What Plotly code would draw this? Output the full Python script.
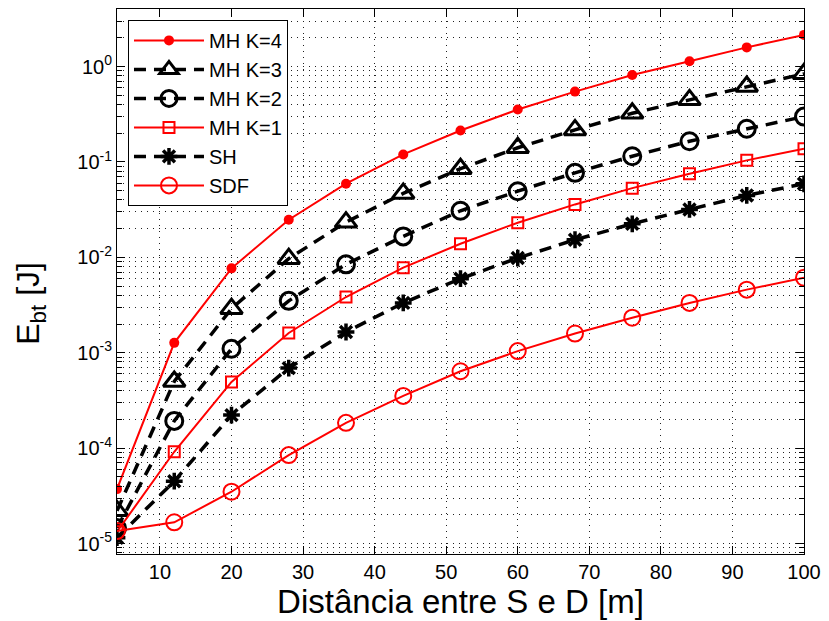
import plotly.graph_objects as go

# Distance between source and destination [m]
distancia = [4, 12, 20, 28, 36, 44, 52, 60, 68, 76, 84, 92, 100]

# Energy per bit [J] for each scheme
mh_k4 = [3.72e-5, 1.27e-3, 7.67e-3, 0.0248, 0.0592, 0.120, 0.214, 0.355, 0.547, 0.818, 1.14, 1.59, 2.15]
mh_k3 = [2.2e-5, 5.0e-4, 2.9e-3, 9.7e-3, 0.0234, 0.0468, 0.085, 0.141, 0.217, 0.324, 0.448, 0.618, 0.84]
mh_k2 = [1.45e-5, 1.93e-4, 1.1e-3, 3.5e-3, 8.45e-3, 0.0166, 0.0308, 0.0494, 0.077, 0.115, 0.165, 0.223, 0.299]
mh_k1 = [1.33e-5, 9.16e-5, 4.94e-4, 1.61e-3, 3.84e-3, 7.8e-3, 0.0139, 0.0231, 0.0359, 0.0532, 0.0752, 0.104, 0.138]
sh = [1.15e-5, 4.5e-5, 2.22e-4, 6.9e-4, 1.65e-3, 3.33e-3, 5.98e-3, 9.84e-3, 0.0153, 0.0225, 0.0318, 0.0446, 0.0591]
sdf = [1.35e-5, 1.67e-5, 3.49e-5, 8.45e-5, 1.84e-4, 3.53e-4, 6.4e-4, 1.04e-3, 1.59e-3, 2.33e-3, 3.33e-3, 4.59e-3, 6.12e-3]

y_tickvals = [1e-5, 1e-4, 1e-3, 1e-2, 1e-1, 1e0]
y_ticktext = ["10<sup>-5</sup>", "10<sup>-4</sup>", "10<sup>-3</sup>",
              "10<sup>-2</sup>", "10<sup>-1</sup>", "10<sup>0</sup>"]

RED = "#ff0000"
BLACK = "#000000"
DASH = "12px,8px"
GRID_DASH = "1px,5px"
GRID_COLOR = "#222222"

fig = go.Figure()

fig.add_trace(go.Scatter(
    x=distancia, y=mh_k4, name="MH K=4", mode="lines+markers",
    line=dict(color=RED, width=2),
    marker=dict(symbol="circle", size=10, color=RED)))

fig.add_trace(go.Scatter(
    x=distancia, y=mh_k3, name="MH K=3", mode="lines+markers",
    line=dict(color=BLACK, width=3.5, dash=DASH),
    marker=dict(symbol="triangle-up-open", size=19, color=BLACK,
                line=dict(color=BLACK, width=3))))

fig.add_trace(go.Scatter(
    x=distancia, y=mh_k2, name="MH K=2", mode="lines+markers",
    line=dict(color=BLACK, width=3.5, dash=DASH),
    marker=dict(symbol="circle-open", size=17, color=BLACK,
                line=dict(color=BLACK, width=3))))

fig.add_trace(go.Scatter(
    x=distancia, y=mh_k1, name="MH K=1", mode="lines+markers",
    line=dict(color=RED, width=2),
    marker=dict(symbol="square-open", size=11, color=RED,
                line=dict(color=RED, width=2))))

fig.add_trace(go.Scatter(
    x=distancia, y=sh, name="SH", mode="lines+markers",
    line=dict(color=BLACK, width=3.5, dash=DASH),
    marker=dict(symbol="asterisk-open", size=14, color=BLACK,
                line=dict(color=BLACK, width=3.5))))

fig.add_trace(go.Scatter(
    x=distancia, y=sdf, name="SDF", mode="lines+markers",
    line=dict(color=RED, width=2),
    marker=dict(symbol="circle-open", size=16, color=RED,
                line=dict(color=RED, width=2))))

FONT = "Liberation Sans, Arial, Helvetica, sans-serif"

fig.update_layout(
    width=829, height=621,
    margin=dict(l=117, r=20, t=8, b=67),
    paper_bgcolor="white", plot_bgcolor="white",
    font=dict(family=FONT, color="black", size=19),
    showlegend=True,
    legend=dict(
        x=0.016, y=0.98, xanchor="left", yanchor="top",
        bgcolor="white", bordercolor="black", borderwidth=1,
        font=dict(family=FONT, size=20, color="black"),
        tracegroupgap=0, itemwidth=70,
    ),
    annotations=[dict(
        text="E<sub>bt</sub> [J]", textangle=-90,
        xref="paper", yref="paper", x=-0.126, y=0.46,
        xanchor="center", yanchor="middle", showarrow=False,
        font=dict(family=FONT, size=32, color="black"),
    )],
)

fig.update_xaxes(
    range=[4, 100], tick0=0, dtick=10,
    showline=True, linecolor="black", linewidth=1, mirror="ticks",
    ticks="inside", ticklen=8, tickcolor="black",
    showgrid=True, gridcolor=GRID_COLOR, griddash=GRID_DASH, gridwidth=1,
    zeroline=False,
    tickfont=dict(family=FONT, size=20, color="black"),
    title=dict(text="Distância entre S e D [m]",
               font=dict(family=FONT, size=33, color="black"), standoff=2),
)

fig.update_yaxes(
    type="log", range=[-5.11, 0.604],
    tickvals=y_tickvals, ticktext=y_ticktext,
    showline=True, linecolor="black", linewidth=1, mirror="ticks",
    ticks="inside", ticklen=8, tickcolor="black",
    showgrid=True, gridcolor=GRID_COLOR, griddash=GRID_DASH, gridwidth=1,
    zeroline=False,
    tickfont=dict(family=FONT, size=20, color="black"),
    minor=dict(dtick="D1", ticks="inside", ticklen=5, tickcolor="black",
               showgrid=True, gridcolor=GRID_COLOR, griddash=GRID_DASH, gridwidth=1),
)

fig.write_html("out.html")
